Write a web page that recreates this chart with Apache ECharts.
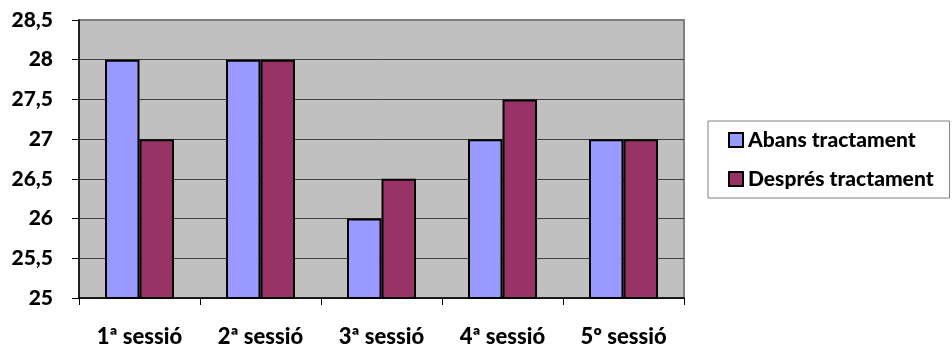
<!DOCTYPE html>
<html>
<head>
<meta charset="utf-8">
<script src="https://cdn.jsdelivr.net/npm/echarts@6/dist/echarts.min.js"></script>
<style>
html,body{margin:0;padding:0;background:#fff;}
#c{width:952px;height:348px;}
</style>
</head>
<body>
<div id="c"></div>
<script>
const categories = ['1ª sessió', '2ª sessió', '3ª sessió', '4ª sessió', '5º sessió'];
const seriesNames = ['Abans tractament', 'Després tractament'];
const abans = [28, 28, 26, 27, 27];
const despres = [27, 28, 26.5, 27.5, 27];
const yMin = 25, yMax = 28.5, yStep = 0.5;

const FONT = 'Lato';
const WEIGHT = 900;
const chart = echarts.init(document.getElementById('c'), null, {renderer: 'canvas'});
const splitColors = ['#404040','#404040','#404040','#404040','#404040','#404040','#404040','#808080'];

chart.setOption({
  animation: false,
  backgroundColor: '#ffffff',
  textStyle: {fontFamily: FONT, fontWeight: WEIGHT, color: '#000'},
  grid: {
    left: 79, right: 268, top: 20, bottom: 50,
    show: true, backgroundColor: '#C0C0C0', borderColor: '#808080', borderWidth: 2,
    containLabel: false, outerBoundsMode: 'none'
  },
  legend: {
    orient: 'vertical',
    left: 708, top: 121,
    padding: [7, 16, 7, 20],
    itemGap: 15,
    itemWidth: 14, itemHeight: 14,
    icon: 'rect',
    backgroundColor: '#ffffff',
    borderColor: '#808080', borderWidth: 1,
    itemStyle: {borderColor: '#000', borderWidth: 2},
    textStyle: {fontFamily: FONT, fontWeight: WEIGHT, fontSize: 21, lineHeight: 24, color: '#000', padding: [0,0,0,0]},
    data: seriesNames
  },
  xAxis: {
    type: 'category',
    data: categories,
    boundaryGap: true,
    axisLine: {show: true, lineStyle: {color: '#000', width: 1.5}},
    axisTick: {show: true, length: 7, lineStyle: {color: '#000'}},
    axisLabel: {margin: 28, fontFamily: FONT, fontWeight: WEIGHT, fontSize: 22, color: '#000', interval: 0},
    splitLine: {show: false}
  },
  yAxis: {
    type: 'value',
    min: yMin, max: yMax, interval: yStep,
    axisLine: {show: true, lineStyle: {color: '#000', width: 1.5}},
    axisTick: {show: true, length: 7, lineStyle: {color: '#000'}},
    axisLabel: {
      margin: 26, fontFamily: FONT, fontWeight: WEIGHT, fontSize: 21, color: '#000',
      formatter: v => String(v).replace('.', ',')
    },
    splitLine: {show: true, lineStyle: {color: splitColors, width: 1}}
  },
  series: [
    {
      name: seriesNames[0], type: 'bar', data: abans,
      barGap: '0%', barCategoryGap: '43%',
      itemStyle: {color: '#9999FF', borderColor: '#000', borderWidth: 2}
    },
    {
      name: seriesNames[1], type: 'bar', data: despres,
      barGap: '0%', barCategoryGap: '43%',
      itemStyle: {color: '#993366', borderColor: '#000', borderWidth: 2}
    }
  ]
});
</script>
</body>
</html>
